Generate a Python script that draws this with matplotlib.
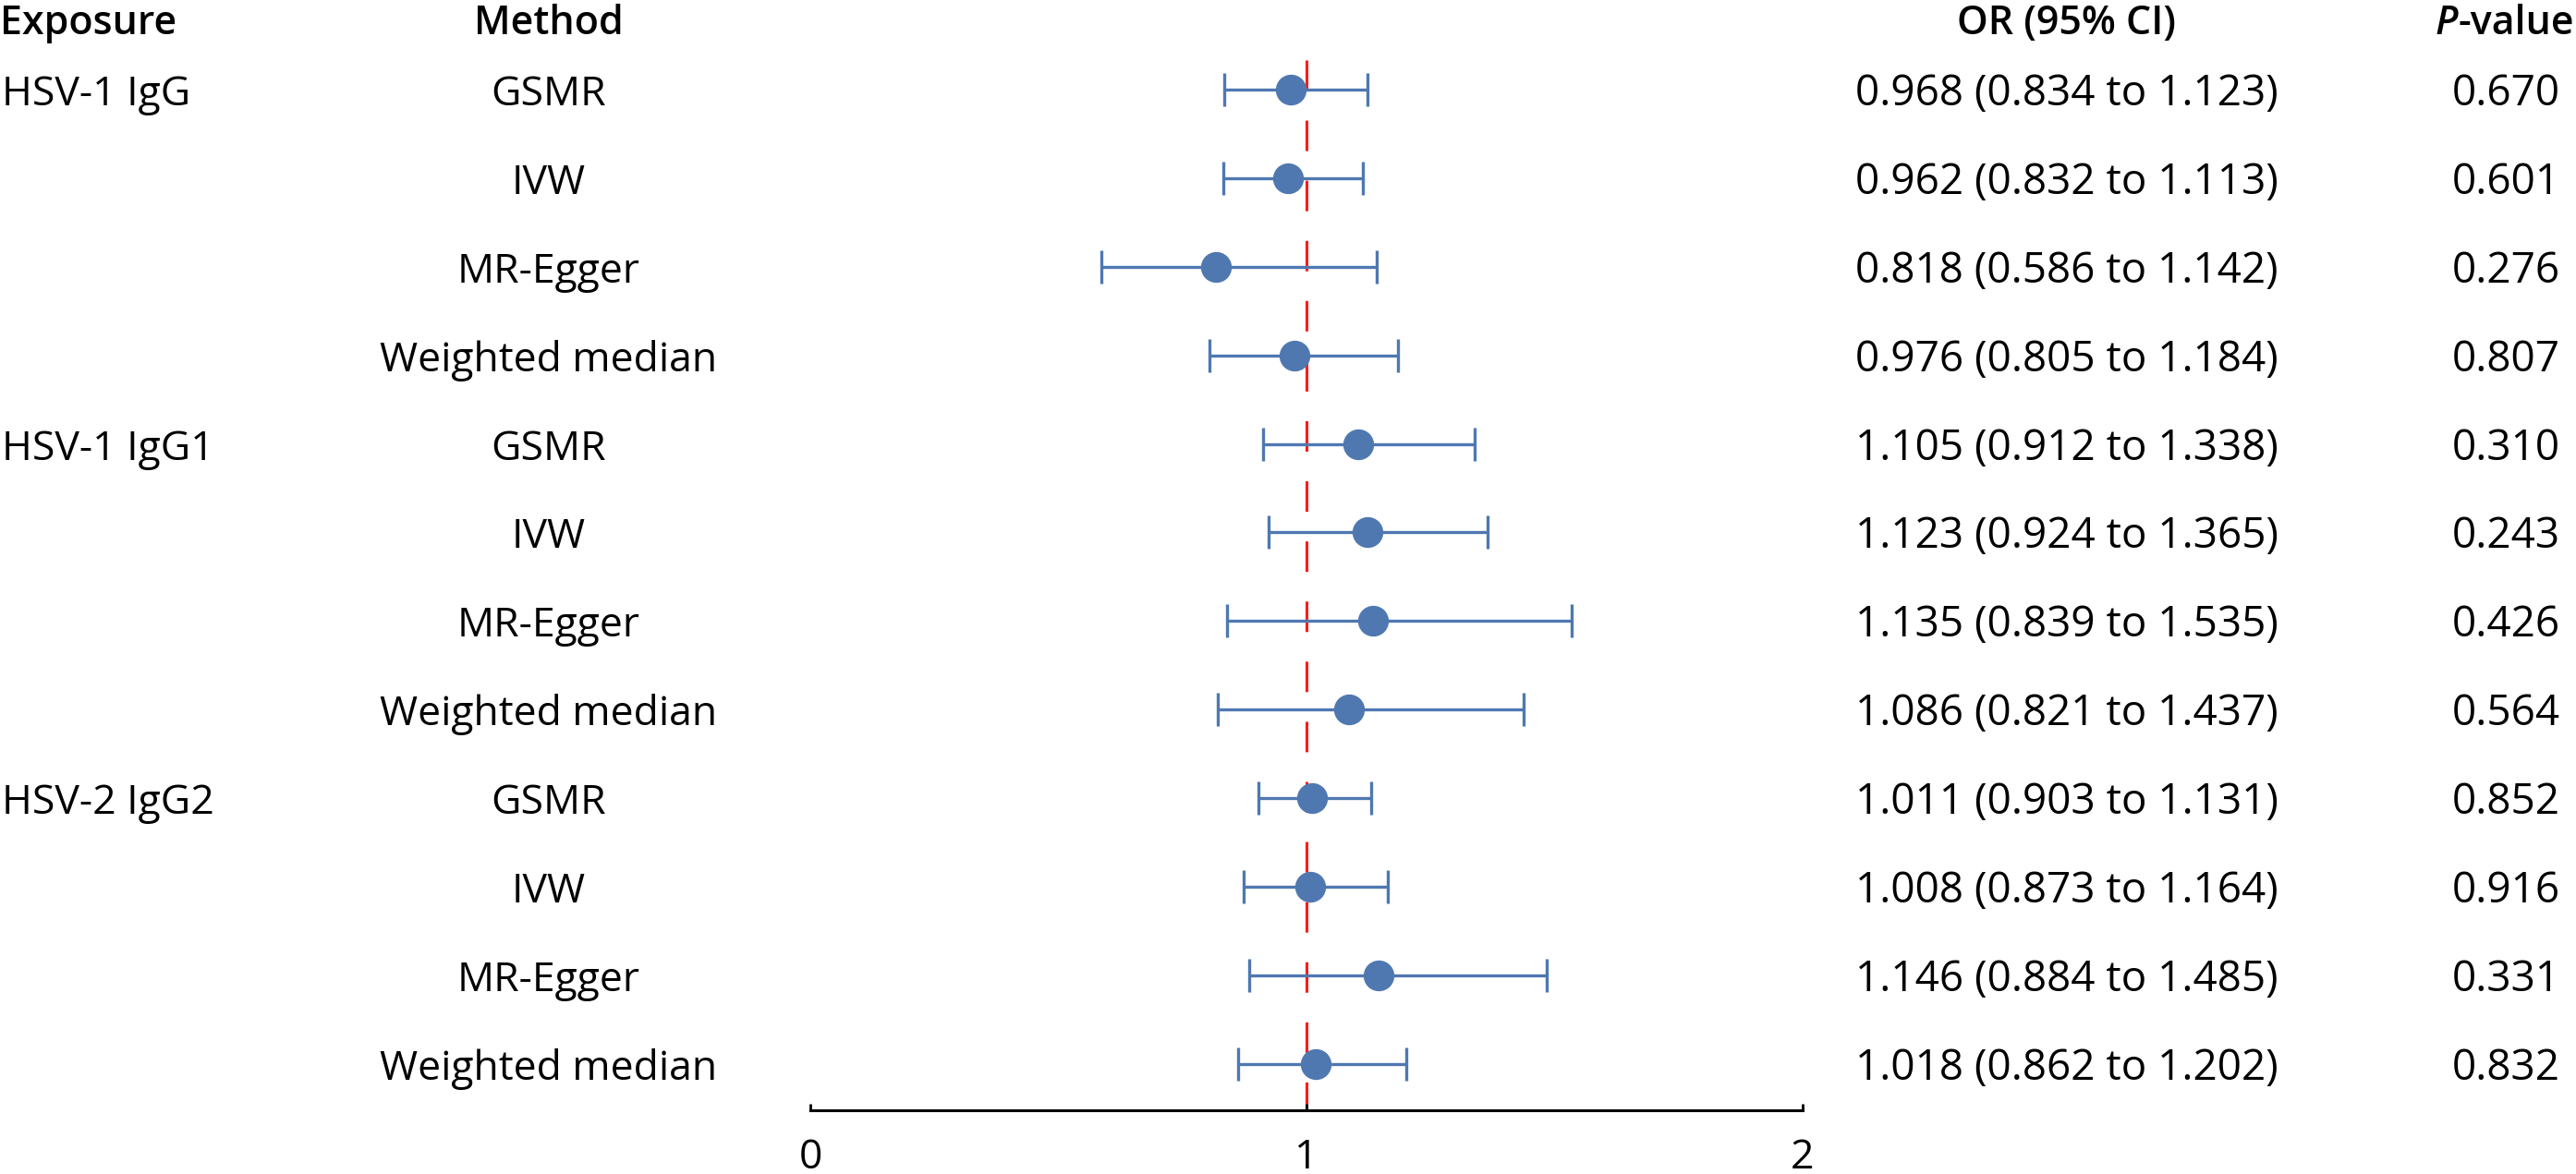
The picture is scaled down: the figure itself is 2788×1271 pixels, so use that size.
import numpy as np
import matplotlib
matplotlib.use("Agg")
import matplotlib.pyplot as plt

# ── Data ───────────────────────────────────────────────────────────────────────
exposures = ["HSV-1 IgG", "HSV-1 IgG1", "HSV-2 IgG2"]
methods = ["GSMR", "IVW", "MR-Egger", "Weighted median"]
or_est = [0.968, 0.962, 0.818, 0.976,
          1.105, 1.123, 1.135, 1.086,
          1.011, 1.008, 1.146, 1.018]
ci_low = [0.834, 0.832, 0.586, 0.805,
          0.912, 0.924, 0.839, 0.821,
          0.903, 0.873, 0.884, 0.862]
ci_high = [1.123, 1.113, 1.142, 1.184,
           1.338, 1.365, 1.535, 1.437,
           1.131, 1.164, 1.485, 1.202]
p_vals = ["0.670", "0.601", "0.276", "0.807",
          "0.310", "0.243", "0.426", "0.564",
          "0.852", "0.916", "0.331", "0.832"]
x_ticks = [0, 1, 2]

# ── Style ──────────────────────────────────────────────────────────────────────
BLUE = "#4F78B1"
RED = "#FF1A1A"
FS = 32       # labels
FS_NUM = 33   # numeric columns
FS_HEAD = 31  # bold headers
plt.rcParams["font.family"] = ["Open Sans", "DejaVu Sans"]

W, H = 2788, 1271
X0_PX, X2_PX = 877, 1951        # pixel position of x=0 and x=2
ROW0_PX, ROW_STEP = 97, 95.9    # centre of first row, row spacing
AXIS_PX = 1202

fig = plt.figure(figsize=(W / 100, H / 100), dpi=100)
ax = fig.add_axes([0, 0, 1, 1])
unit = (X2_PX - X0_PX) / 2
ax.set_xlim(-X0_PX / unit, (W - X0_PX) / unit)
ax.set_ylim((H - ROW0_PX) / ROW_STEP, -ROW0_PX / ROW_STEP)

n = len(or_est)
rows = np.arange(n)
est = np.array(or_est)
lo = np.array(ci_low)
hi = np.array(ci_high)

y_axis = (AXIS_PX - ROW0_PX) / ROW_STEP
y_top = (65 - ROW0_PX) / ROW_STEP

# reference line at OR = 1
ref, = ax.plot([1, 1], [y_top, y_axis], color=RED, lw=2.2, zorder=1)
ref.set_dashes((10.8, 10.5))

ax.errorbar(est, rows, xerr=[est - lo, hi - est], fmt="o", color=BLUE,
            ms=23, elinewidth=2.4, capsize=13, capthick=2.4, zorder=3)

# axis
for s in ["top", "left", "right"]:
    ax.spines[s].set_visible(False)
ax.spines["bottom"].set_position(("data", y_axis))
ax.spines["bottom"].set_bounds(0, 2)
ax.spines["bottom"].set_linewidth(2.2)
ax.set_xticks(x_ticks)
ax.set_xticklabels([str(t) for t in x_ticks])
ax.tick_params(axis="x", direction="in", length=5, width=2,
               labelsize=FS, pad=21)
ax.set_yticks([])

# ── Table columns ──────────────────────────────────────────────────────────────
tr = ax.get_yaxis_transform()
base = 17 / ROW_STEP
head_y = (37 - ROW0_PX) / ROW_STEP

ax.text(0 / W, head_y, "Exposure", transform=tr, ha="left", va="baseline",
        fontsize=FS_HEAD, fontweight="semibold")
ax.text(594 / W, head_y, "Method", transform=tr, ha="center", va="baseline",
        fontsize=FS_HEAD, fontweight="semibold")
ax.text(2237 / W, head_y, "OR (95% CI)", transform=tr, ha="center",
        va="baseline", fontsize=FS_HEAD, fontweight="semibold")
v_txt = ax.text(2786 / W, head_y, "-value", transform=tr, ha="right",
                va="baseline", fontsize=FS_HEAD, fontweight="semibold")
ax.annotate("P", xy=(0, 0), xycoords=v_txt, ha="right", va="bottom",
            fontsize=FS_HEAD, fontweight="semibold", style="italic")

for i in range(n):
    y = rows[i] + base
    if i % len(methods) == 0:
        ax.text(2 / W, y, exposures[i // len(methods)], transform=tr,
                ha="left", va="baseline", fontsize=FS)
    ax.text(594 / W, y, methods[i % len(methods)], transform=tr,
            ha="center", va="baseline", fontsize=FS)
    ax.text(2237 / W, y, f"{or_est[i]:.3f} ({ci_low[i]:.3f} to {ci_high[i]:.3f})",
            transform=tr, ha="center", va="baseline", fontsize=FS_NUM)
    ax.text(2712 / W, y, p_vals[i], transform=tr, ha="center", va="baseline",
            fontsize=FS_NUM)

fig.savefig("out.png", dpi=100)
